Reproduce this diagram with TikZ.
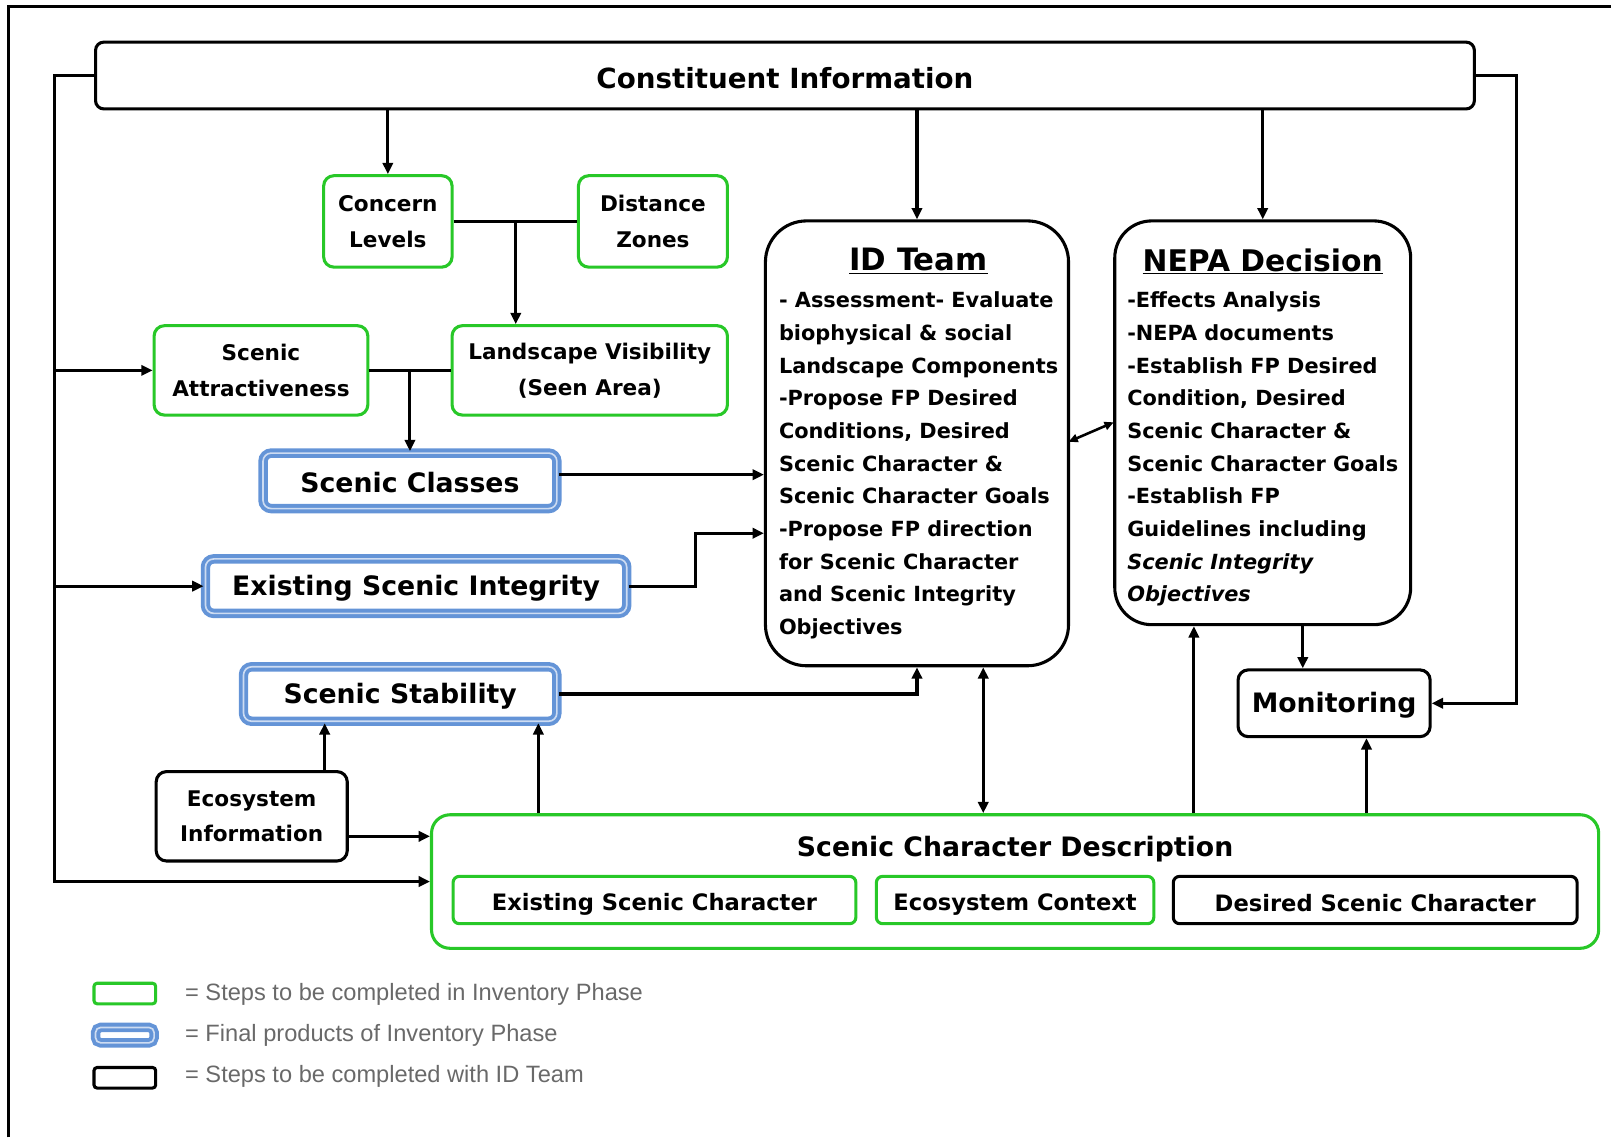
\documentclass[tikz,border=0pt]{standalone}
\usepackage{fontspec}
\setmainfont{DejaVu Sans}
\newfontfamily\legendfont{Liberation Sans}
\usetikzlibrary{arrows.meta,calc}
\definecolor{gbox}{RGB}{40,200,40}
\definecolor{bbox}{RGB}{100,148,215}
\definecolor{bboxin}{RGB}{205,220,242}
\definecolor{legtext}{RGB}{105,105,105}
\newcommand{\lowr}[2]{\raisebox{-#1}[\height][\depth]{#2}}
\begin{document}
\begin{tikzpicture}[x=1pt,y=-1pt,
  every node/.style={font=\bfseries},
  gstep/.style={draw=gbox, line width=3pt, rounded corners=10pt, fill=white, align=center, inner sep=0pt},
  bstep/.style={draw=bbox, line width=3.8pt, double=bboxin, double distance=1.6pt, rounded corners=8pt, align=center, inner sep=0pt},
  kstep/.style={draw=black, line width=3pt, rounded corners=10pt, fill=white, align=center, inner sep=0pt},
  conn/.style={line width=3pt},
  arr/.style={line width=3pt, -{Triangle[length=11pt,width=10pt]}},
  darr/.style={line width=3pt, {Triangle[length=11pt,width=10pt]}-{Triangle[length=11pt,width=10pt]}},
  mtext/.style={font=\bfseries\fontsize{21}{35}\selectfont},
  itext/.style={font=\bfseries\fontsize{22}{35}\selectfont},
  btext/.style={font=\bfseries\fontsize{26}{30}\selectfont},
  body/.style={anchor=north west, align=left, inner sep=0pt, font=\bfseries\fontsize{20.3}{31.8}\selectfont},
  legend/.style={anchor=west, inner sep=0pt, text=legtext, font=\legendfont\fontsize{23}{23}\selectfont}
]
\useasboundingbox (0,0) rectangle (1568,1107);
% frame
\draw[line width=3pt] (8,1107) -- (8,6) -- (1568,6);

% nodes
\node[kstep, rounded corners=8pt, minimum width=1342pt, minimum height=65pt, font=\bfseries\fontsize{27}{30}\selectfont] (const) at (764,73.5) {\lowr{3pt}{Constituent Information}};
\node[gstep, minimum width=125pt, minimum height=89pt, mtext] (concern) at (377.5,215.5) {Concern\\Levels};
\node[gstep, minimum width=145pt, minimum height=89pt, mtext] (distance) at (635.5,215.5) {Distance\\Zones};
\node[gstep, minimum width=208pt, minimum height=87pt, mtext] (attract) at (254,360.5) {Scenic\\Attractiveness};
\node[gstep, minimum width=268pt, minimum height=87pt, mtext] (landvis) at (574,360.5) {Landscape Visibility\\(Seen Area)};
\node[bstep, minimum width=286pt, minimum height=54pt, btext] (classes) at (399,468) {\lowr{2pt}{Scenic Classes}};
\node[bstep, minimum width=410pt, minimum height=53pt, btext] (esi) at (405,570.5) {\lowr{2pt}{Existing Scenic Integrity}};
\node[bstep, minimum width=305pt, minimum height=53pt, btext] (stability) at (389.5,675.5) {\lowr{2pt}{Scenic Stability}};
\node[kstep, minimum width=186pt, minimum height=87pt, mtext] (ecoinfo) at (245,794.5) {Ecosystem\\Information};

\node[gstep, rounded corners=18pt, minimum width=1136pt, minimum height=130pt] (scd) at (988,858) {};
\node[font=\bfseries\fontsize{26}{28}\selectfont] (scdtitle) at (988,826) {Scenic Character Description};
\node[gstep, rounded corners=6pt, minimum width=392pt, minimum height=46pt, itext] (esc) at (637,876) {\lowr{4pt}{Existing Scenic Character}};
\node[gstep, rounded corners=6pt, minimum width=270pt, minimum height=46pt, itext] (ecoctx) at (988,876) {\lowr{4pt}{Ecosystem Context}};
\node[kstep, rounded corners=6pt, minimum width=393pt, minimum height=46pt, itext] (dsc) at (1338.5,876) {\lowr{3pt}{Desired Scenic Character}};

\node[kstep, rounded corners=40pt, minimum width=295pt, minimum height=433pt] (idteam) at (892.5,431.5) {};
\node[font=\bfseries\fontsize{30}{32}\selectfont] (idtitle) at (894,254) {\underline{ID Team}};
\node[body] (idbody) at (758,284) {- Assessment- Evaluate\\biophysical \& social\\Landscape Components\\-Propose FP Desired\\Conditions, Desired\\Scenic Character \&\\Scenic Character Goals\\-Propose FP direction\\for Scenic Character\\and Scenic Integrity\\Objectives};

\node[kstep, rounded corners=36pt, minimum width=288pt, minimum height=393pt] (nepa) at (1229,411.5) {};
\node[font=\bfseries\fontsize{29}{32}\selectfont] (nepatitle) at (1229,254) {\underline{NEPA Decision}};
\node[body] (nepabody) at (1097,284) {-Effects Analysis\\-NEPA documents\\-Establish FP Desired\\Condition, Desired\\Scenic Character \&\\Scenic Character Goals\\-Establish FP\\Guidelines including\\\textit{Scenic Integrity}\\\textit{Objectives}};

\node[kstep, minimum width=187pt, minimum height=65pt, btext] (monitor) at (1298.5,684.5) {\lowr{2pt}{Monitoring}};

% helper coordinates
\coordinate (trunkL) at (53,0);
\coordinate (trunkR) at (1476,0);
\coordinate (j1) at (502,215.5);
\coordinate (j2) at (399,360.5);
\coordinate (ycl) at (0,462);
\coordinate (k1) at (677,519);
\coordinate (xeco) at (316,0);
\coordinate (yeco) at (0,814);
\coordinate (xscd) at (524,0);
\coordinate (xid) at (957,0);
\coordinate (xnepa) at (1162,0);
\coordinate (xmon) at (1330,0);
\coordinate (xnm) at (1268,0);
\coordinate (dA) at (1040,430);
\coordinate (dB) at (1084,411);

% connectors
\draw[arr] (const.west) -- (const.west -| trunkL) |- (scd.west);
\draw[arr] (attract.west -| trunkL) -- (attract.west);
\draw[arr] (esi.west -| trunkL) -- (esi.west);
\draw[arr] (const.east) -- (const.east -| trunkR) |- (monitor.east);
\draw[arr] (concern.north |- const.south) -- (concern.north);
\draw[arr] (idteam.north |- const.south) -- (idteam.north);
\draw[arr] (nepa.north |- const.south) -- (nepa.north);
\draw[conn] (concern.east) -- (distance.west);
\draw[arr] (j1) -- (j1 |- landvis.north);
\draw[conn] (attract.east) -- (landvis.west);
\draw[arr] (j2) -- (j2 |- classes.north);
\draw[arr] (classes.east |- ycl) -- (idteam.west |- ycl);
\draw[arr] (esi.east) -| (k1) -- (k1 -| idteam.west);
\draw[arr] (stability.east) -| (idteam.south);
\draw[arr] (ecoinfo.north -| xeco) -- (stability.south -| xeco);
\draw[arr] (ecoinfo.east |- yeco) -- (scd.west |- yeco);
\draw[arr] (scd.north -| xscd) -- (stability.south -| xscd);
\draw[darr] (idteam.south -| xid) -- (scd.north -| xid);
\draw[arr] (scd.north -| xnepa) -- (nepa.south -| xnepa);
\draw[arr] (scd.north -| xmon) -- (monitor.south -| xmon);
\draw[arr] (nepa.south -| xnm) -- (monitor.north -| xnm);
\draw[line width=2.5pt, {Triangle[length=9pt,width=8pt]}-{Triangle[length=9pt,width=8pt]}] (dA) -- (dB);

% legend
\node[draw=gbox, line width=3pt, rounded corners=3pt, minimum width=60pt, minimum height=20pt, inner sep=0pt] (lg1) at (121.5,967) {};
\node[draw=bbox, line width=3.8pt, double=bboxin, double distance=1.6pt, rounded corners=5pt, minimum width=57pt, minimum height=15pt, inner sep=0pt] (lg2) at (121.5,1007.5) {};
\node[draw=black, line width=3pt, rounded corners=3pt, minimum width=60pt, minimum height=20pt, inner sep=0pt] (lg3) at (121.5,1049) {};
\node[legend] (lt1) at (180,968) {= Steps to be completed in Inventory Phase};
\node[legend] (lt2) at (180,1008) {= Final products of Inventory Phase};
\node[legend] (lt3) at (180,1048) {= Steps to be completed with ID Team};
\end{tikzpicture}
\end{document}
